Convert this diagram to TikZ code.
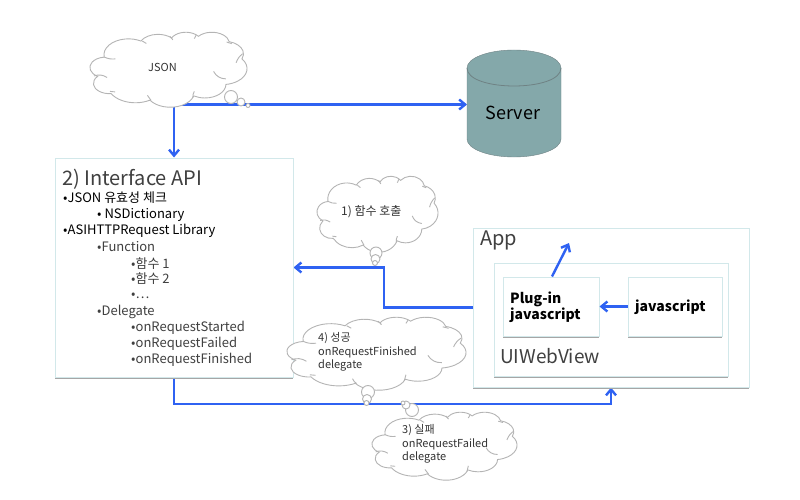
\documentclass[tikz,border=0pt]{standalone}
\usepackage{fontspec}
\setmainfont{Noto Sans CJK KR}
\usetikzlibrary{arrows.meta,shadows,backgrounds}
\definecolor{edge}{HTML}{D2E8EA}
\definecolor{wire}{HTML}{2F62F2}
\definecolor{puff}{HTML}{B4B4B4}
\definecolor{drum}{HTML}{84A8AA}
\definecolor{drumline}{HTML}{6F8284}
\newcommand{\pxfont}[1]{\fontsize{#1}{#1}\selectfont}
\tikzset{
  panel/.style={draw=edge, fill=white, line width=1pt, inner sep=0pt,
    drop shadow={shadow xshift=0pt, shadow yshift=-1.5pt, fill=black!35, opacity=1}},
  flow/.style={-{Straight Barb[length=6pt,width=10pt]}, wire, line width=2.4pt},
  puffline/.style={draw=puff, fill=white, line width=0.9pt},
  dot/.style={circle, draw=puff, fill=white, line width=0.9pt, inner sep=0pt},
  say/.style={anchor=west, inner sep=0pt, align=left, text=black!80, font=\fontsize{11}{13.5}\selectfont},
  head/.style={anchor=west, inner sep=0pt, text=black!75, font=\pxfont{20}},
  item/.style={anchor=west, inner sep=0pt, font=\pxfont{13}},
  code/.style={anchor=west, inner sep=0pt, align=left, font=\fontsize{14}{16}\selectfont\bfseries},
}
% cloud outline in a 432 x 432 frame, stretched to left, top, width, height
\newcommand{\puffcloud}[4]{
  \begin{scope}[shift={(#1,#2)}, x={#3/432*1pt}, y={-#4/432*1pt}]
    \draw[puffline] (39,143.7)
      \foreach \rx/\ry/\st/\sw in {67.53/91.90/-190.49/123.78, 53.33/72.67/-144.10/89.95,
          43.65/59.45/-145.81/99.72, 48.57/65.95/-130.99/117.24, 53.33/72.73/-78.71/109.03,
          67.75/92.20/-46.27/130.27, 57.85/78.67/0.63/114.03, 67.52/92.15/22.45/115.17,
          77.20/105.43/66.24/75.71, 43.60/59.18/-274.94/146.74, 43.45/59.45/-246.83/152.52} {
        arc[x radius=\rx, y radius=\ry, start angle={atan2(\rx*sin(\st),\ry*cos(\st))},
          delta angle={mod(atan2(\rx*sin(\st+\sw),\ry*cos(\st+\sw))-atan2(\rx*sin(\st),\ry*cos(\st))+720,360)}]
      } -- cycle;
    \foreach \ax/\ay/\bx/\by/\bend in {47/262/11/253/25, 39/144/70/155/15, 144/52/155/66/15,
        220/25/228/45/15, 292/19/287/38/15, 376/58/390/67/15, 420/125/402/177/15,
        340/227/374/270/30, 287/342/283/378/15, 158/365/168/394/15, 55/342/69/345/15} {
      \draw[puff, line width=0.9pt] (\ax,\ay) to[bend right=\bend] (\bx,\by);
    }
  \end{scope}
}

\begin{document}
\begin{tikzpicture}[x=1pt,y=-1pt]
\useasboundingbox (0,0) rectangle (800,500);

% Server drum
\draw[drumline, fill=drum] (467,68) arc[x radius=47, y radius=18, start angle=180, end angle=360]
  -- (561,139) arc[x radius=47, y radius=18, start angle=0, end angle=180] -- cycle;
\draw[drumline, line width=0.8pt] (467,68) .. controls (467,92) and (561,92) .. (561,68);
\node[inner sep=0pt, font=\pxfont{18}] (serverlabel) at (513,113) {Server};
\coordinate (server) at (467,104.5);

% Interface API panel and its outline
\node[panel, minimum width=238pt, minimum height=219pt] (api) at (174,267.5) {};
\node[head] (apititle) at (62,179) {2) Interface API};
\foreach \i/\ix/\ity/\itext in {
    0/63/198/•JSON 유효성 체크, 1/97/215/• NSDictionary, 2/63/231/•ASIHTTPRequest Library} {
  \node[item, text=black] (line\i) at (\ix,\ity) {\itext};
}
\foreach \i/\ix/\ity/\itext in {
    3/97/247/•Function, 4/131/264/•함수 1, 5/131/279/•함수 2, 6/131/296/•…,
    7/97/312/•Delegate, 8/131/328/•onRequestStarted, 9/131/344/•onRequestFailed,
    10/131/360/•onRequestFinished} {
  \node[item, text=black!75] (line\i) at (\ix,\ity) {\itext};
}

% App with the web view inside
\node[panel, minimum width=276pt, minimum height=159pt] (app) at (611,307.5) {};
\node[head] (apptitle) at (480,240) {App};
\node[panel, minimum width=234pt, minimum height=113pt] (webview) at (611,319.5) {};
\node[head, font=\pxfont{19}] (webtitle) at (500,356) {UIWebView};
\node[panel, minimum width=96pt, minimum height=59pt] (plugin) at (551,306.5) {};
\node[code] (plugintext) at (510,307) {Plug-in\\javascript};
\node[panel, minimum width=94pt, minimum height=59pt] (script) at (675,306.5) {};
\node[code] (scripttext) at (635,307) {javascript};
\coordinate (pluginout) at (569,243);

% Clouds
\puffcloud{90}{32}{157}{75}
\node[say] (json) at (148,67) {JSON};
\node[dot, minimum size=13pt] (jsona) at (231,97) {};
\node[dot, minimum size=8pt] (jsonb) at (241,102) {};
\node[dot, minimum size=4pt] (jsonc) at (248,105.5) {};

\puffcloud{317}{176}{121}{76}
\node[say, font=\pxfont{12}] (call) at (341,212) {1) 함수 호출};
\node[dot, minimum size=12pt] (calla) at (376,253) {};
\node[dot, minimum size=9pt] (callb) at (375.5,259) {};
\node[dot, minimum size=5pt] (callc) at (375,263) {};

\puffcloud{287}{317}{179}{73}
\node[say] (done) at (318,352) {4) 성공\\onRequestFinished\\delegate};
\node[dot, minimum size=13pt] (donea) at (368,392) {};
\node[dot, minimum size=9pt] (doneb) at (367,399) {};
\node[dot, minimum size=5pt] (donec) at (366.5,403) {};

\puffcloud{372}{412}{145}{68}
\node[say] (fail) at (402,444) {3) 실패\\onRequestFailed\\delegate};
\node[dot, minimum size=13pt] (faila) at (412,410) {};
\node[dot, minimum size=8pt] (failb) at (406,405) {};
\node[dot, minimum size=4pt] (failc) at (403,403) {};

% Connectors in the App
\draw[flow] (plugin.north) ++(1,0) -- (pluginout);
\draw[flow] (script.west) -- (plugin.east);

% Connectors that pass behind the clouds
\begin{scope}[on background layer]
  \draw[flow] (json.south -| api.north) -- (api.north);
  \draw[flow] (api.north |- server) -- (server);
  \draw[flow] (app.west) -- (384,307.5) |- (api.east);
  \draw[flow] (api.south) -- (174,404) -| (app.south);
\end{scope}

\end{tikzpicture}
\end{document}
